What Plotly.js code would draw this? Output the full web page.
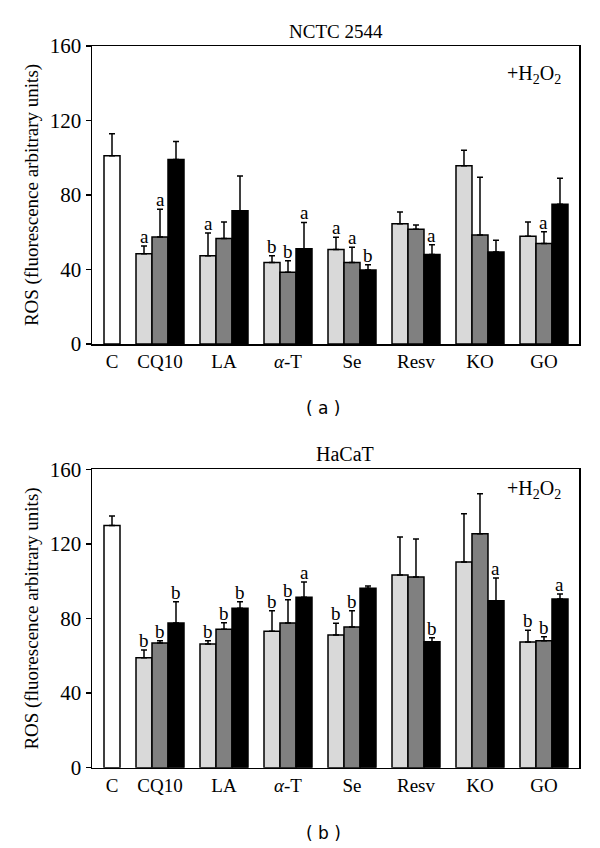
<!DOCTYPE html>
<html>
<head>
<meta charset="utf-8">
<script src="https://cdn.plot.ly/plotly-3.0.1.min.js"></script>
<style>
html,body{margin:0;padding:0;background:#fff;}
#chart{width:600px;height:848px;}
</style>
</head>
<body>
<div id="chart"></div>
<script>
// ---------- data ----------
const categories = ['C', 'CQ10', 'LA', '<i>α</i>-T', 'Se', 'Resv', 'KO', 'GO'];
const treatments = ['CQ10', 'LA', 'α-T', 'Se', 'Resv', 'KO', 'GO'];

// Panel (a): NCTC 2544
const ctrlA = 101.1;
const ctrlErrA = 11.8;
const a1 = [48.5, 47.4, 43.7, 50.8, 64.6, 95.7, 57.8];
const a1Err = [4.1, 12.2, 3.7, 6.5, 6.3, 8.3, 7.7];
const a2 = [57.4, 56.6, 38.5, 43.8, 61.6, 58.5, 53.9];
const a2Err = [14.9, 8.9, 6.2, 8.1, 2.3, 31.0, 6.4];
const a3 = [99.0, 71.6, 51.2, 39.7, 48.1, 49.4, 75.0];
const a3Err = [9.7, 18.6, 14.1, 2.9, 5.2, 6.3, 14.0];
const a1Lab = ['a', 'a', 'b', 'a', '', '', ''];
const a2Lab = ['a', '', 'b', 'a', '', '', 'a'];
const a3Lab = ['', '', 'a', 'b', 'a', '', ''];

// Panel (b): HaCaT
const ctrlB = 129.8;
const ctrlErrB = 5.2;
const b1 = [59.0, 66.3, 73.1, 71.2, 103.3, 110.3, 67.4];
const b1Err = [4.1, 1.8, 11.1, 6.2, 20.4, 25.9, 6.3];
const b2 = [66.9, 74.2, 77.6, 75.4, 102.3, 125.5, 68.1];
const b2Err = [1.2, 3.5, 12.5, 8.8, 20.3, 21.4, 2.1];
const b3 = [77.6, 85.5, 91.4, 96.2, 67.6, 89.5, 90.5];
const b3Err = [11.4, 3.5, 8.2, 1.2, 2.1, 12.2, 2.6];
const b1Lab = ['b', 'b', 'b', 'b', '', '', 'b'];
const b2Lab = ['b', 'b', 'b', 'b', '', '', 'b'];
const b3Lab = ['b', 'b', 'a', '', 'b', 'a', 'a'];

const yTicks = [0, 40, 80, 120, 160];

// ---------- layout helpers ----------
const SERIF = 'Liberation Serif, Times New Roman, serif';
const BW = 0.25;               // bar width in axis units
const ctrlPos = 0.25;
const groupPos = treatments.map((_, i) => i + 1);
const offsets = [-BW, 0, BW];
const fills = ['#d9d9d9', '#808080', '#000000'];

function errCfg(arr) {
  return {type: 'data', symmetric: false, array: arr, arrayminus: arr.map(() => 0),
          color: '#000', thickness: 1.5, width: 3, visible: true};
}

const traces = [];
const annotations = [];

function addPanel(xa, ya, ctrl, ctrlErr, vals, errs, labs) {
  traces.push({
    type: 'bar', x: [ctrlPos], y: [ctrl], width: [BW], xaxis: xa, yaxis: ya,
    marker: {color: '#ffffff', line: {color: '#000', width: 1.5}},
    error_y: errCfg([ctrlErr]), showlegend: false, hoverinfo: 'skip'
  });
  vals.forEach((v, s) => {
    const xs = groupPos.map(p => p + offsets[s]);
    traces.push({
      type: 'bar', x: xs, y: v, width: xs.map(() => BW), xaxis: xa, yaxis: ya,
      marker: {color: fills[s], line: {color: '#000', width: 1.5}},
      error_y: errCfg(errs[s]), showlegend: false, hoverinfo: 'skip'
    });
    labs[s].forEach((t, i) => {
      if (!t) return;
      annotations.push({
        xref: xa, yref: ya, x: xs[i], y: v[i] + errs[s][i], text: t,
        showarrow: false, xanchor: 'center', yanchor: 'bottom', yshift: -3,
        font: {family: SERIF, size: 19, color: '#000'}
      });
    });
  });
}

addPanel('x', 'y', ctrlA, ctrlErrA, [a1, a2, a3], [a1Err, a2Err, a3Err], [a1Lab, a2Lab, a3Lab]);
addPanel('x2', 'y2', ctrlB, ctrlErrB, [b1, b2, b3], [b1Err, b2Err, b3Err], [b1Lab, b2Lab, b3Lab]);

function xAxis(anchor) {
  return {
    anchor: anchor, domain: [0, 1], range: [-0.0625, 7.547],
    tickvals: [ctrlPos].concat(groupPos), ticktext: categories,
    showline: true, mirror: true, linecolor: '#000', linewidth: 1.5,
    ticks: '', showgrid: false, zeroline: false,
    tickfont: {family: SERIF, size: 19, color: '#000'}
  };
}
function yAxis(anchor, domain) {
  return {
    anchor: anchor, domain: domain, range: [0, 160],
    tickvals: yTicks, ticks: 'outside', ticklen: 5, tickwidth: 1.5, tickcolor: '#000',
    showline: true, mirror: true, linecolor: '#000', linewidth: 1.5,
    showgrid: false, zeroline: false,
    tickfont: {family: SERIF, size: 21, color: '#000'},
    title: {text: 'ROS (fluorescence arbitrary units)', standoff: 6,
            font: {family: SERIF, size: 19, color: '#000'}}
  };
}

const H = 848;
function py(p) { return 1 - p / H; }

annotations.push(
  {xref: 'paper', yref: 'paper', x: 0.5, y: py(31), text: 'NCTC 2544', showarrow: false,
   xanchor: 'center', yanchor: 'middle', font: {family: SERIF, size: 19, color: '#000'}},
  {xref: 'paper', yref: 'paper', x: (345 - 92) / 487, y: py(454), text: 'HaCaT', showarrow: false,
   xanchor: 'center', yanchor: 'middle', font: {family: SERIF, size: 20, color: '#000'}},
  {xref: 'paper', yref: 'paper', x: (563 - 92) / 487, y: py(74), text: '+H<sub>2</sub>O<sub>2</sub>', showarrow: false,
   xanchor: 'right', yanchor: 'middle', font: {family: SERIF, size: 20, color: '#000'}},
  {xref: 'paper', yref: 'paper', x: (563 - 92) / 487, y: py(489), text: '+H<sub>2</sub>O<sub>2</sub>', showarrow: false,
   xanchor: 'right', yanchor: 'middle', font: {family: SERIF, size: 20, color: '#000'}},
  {xref: 'paper', yref: 'paper', x: (323 - 92) / 487, y: py(408), text: '( a )', showarrow: false,
   xanchor: 'center', yanchor: 'middle', font: {family: 'DejaVu Sans, sans-serif', size: 17, color: '#000'}},
  {xref: 'paper', yref: 'paper', x: (323 - 92) / 487, y: py(833), text: '( b )', showarrow: false,
   xanchor: 'center', yanchor: 'middle', font: {family: 'DejaVu Sans, sans-serif', size: 17, color: '#000'}}
);

const layout = {
  width: 600, height: H,
  margin: {l: 92, r: 21, t: 0, b: 0},
  paper_bgcolor: '#fff', plot_bgcolor: '#fff',
  barmode: 'overlay', showlegend: false,
  xaxis: xAxis('y'),
  yaxis: yAxis('x', [py(344), py(46)]),
  xaxis2: xAxis('y2'),
  yaxis2: yAxis('x2', [py(767.7), py(469.3)]),
  annotations: annotations
};

Plotly.newPlot('chart', traces, layout, {displayModeBar: false, staticPlot: true});
</script>
</body>
</html>
